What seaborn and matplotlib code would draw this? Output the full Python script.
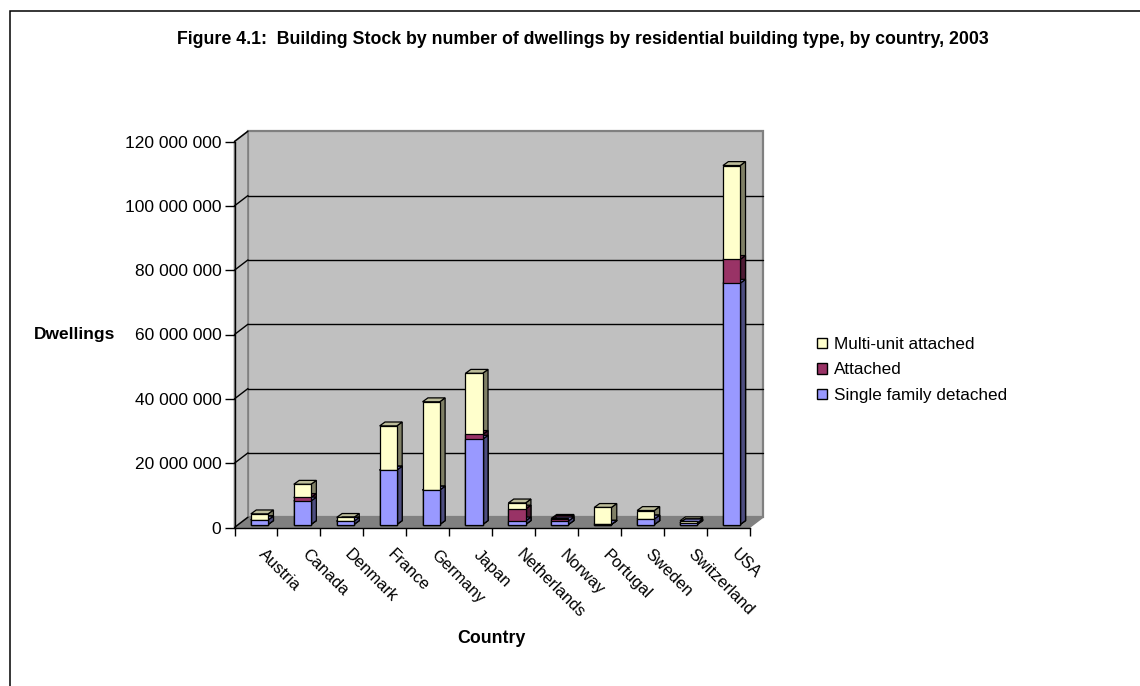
import numpy as np
import pandas as pd
import seaborn as sns
import matplotlib.pyplot as plt
from matplotlib.lines import Line2D
from matplotlib.patches import Patch, Polygon, Rectangle
from matplotlib.transforms import Affine2D, IdentityTransform
from matplotlib.ticker import FuncFormatter

countries = ['Austria', 'Canada', 'Denmark', 'France', 'Germany', 'Japan',
             'Netherlands', 'Norway', 'Portugal', 'Sweden', 'Switzerland', 'USA']
# values in millions of dwellings
single_family = [1.4, 7.3, 1.0, 16.9, 10.7, 26.5, 1.1, 1.1, 0.05, 1.7, 0.5, 75.0]
attached = [0.1, 1.1, 0.1, 0.05, 0.05, 1.5, 3.7, 0.5, 0.05, 0.05, 0.05, 7.4]
multi_unit = [1.8, 4.1, 1.1, 13.7, 27.4, 19.0, 1.9, 0.3, 5.2, 2.6, 0.6, 29.2]

y_ticks = [0, 20, 40, 60, 80, 100, 120]

sns.set_style('white')
plt.rcParams['font.family'] = ['Liberation Sans', 'DejaVu Sans']
plt.rcParams['text.color'] = 'black'
plt.rcParams['xtick.color'] = 'black'
plt.rcParams['ytick.color'] = 'black'

W, H = 1140, 686
fig = plt.figure(figsize=(W / 100, H / 100), dpi=100)
# front plane of the fake 3D box, in pixels
left, right, top, bottom = 234.5, 749.5, 141.5, 527.5
ax = fig.add_axes([left / W, 1 - bottom / H, (right - left) / W, (bottom - top) / H])
ax.patch.set_visible(False)

df = pd.DataFrame({'country': countries, 'single': single_family,
                   'attached': attached, 'multi': multi_unit})
df['c1'] = df['single']
df['c2'] = df['c1'] + df['attached']
df['c3'] = df['c2'] + df['multi']

# tallest first, the lower segments are painted over it
layers = [('c3', '#FFFFCC', '#808066', '#BDBD9A'),
          ('c2', '#993366', '#4D1A33', '#732650'),
          ('c1', '#9999FF', '#4D4D80', '#7373BF')]
for col, face, _, _ in layers:
    sns.barplot(data=df, x='country', y=col, color=face, saturation=1, width=0.4,
                edgecolor='black', linewidth=0.9, order=countries, ax=ax, zorder=5)

ax.set_xlim(-0.5, 11.5)
ax.set_ylim(0, 120)

# box walls
dx, dy = 13.5, 10.3
shift = IdentityTransform()
x0, y0 = ax.transData.transform((-0.5, 0))
x1, y1 = ax.transData.transform((11.5, 120))
walls = [
    Polygon([(x0 + dx, y0 + dy), (x1 + dx, y0 + dy), (x1 + dx, y1 + dy), (x0 + dx, y1 + dy)],
            closed=True, fc='#C0C0C0', ec='#808080', lw=1.6),
    Polygon([(x0, y0), (x0 + dx, y0 + dy), (x0 + dx, y1 + dy), (x0, y1)],
            closed=True, fc='#C0C0C0', ec='#808080', lw=1.2),
    Polygon([(x0, y0), (x1, y0), (x1 + dx, y0 + dy), (x0 + dx, y0 + dy)],
            closed=True, fc='#808080', ec='#808080', lw=1),
]
for p in walls:
    p.set_transform(shift)
    p.set_zorder(0.5)
    p.set_clip_on(False)
    ax.add_patch(p)
for t in y_ticks:
    _, yt = ax.transData.transform((0, t))
    ax.plot([x0, x0 + dx], [yt, yt + dy], color='black', lw=1, transform=shift, zorder=1, clip_on=False)
    if 0 < t < 120:
        ax.plot([x0 + dx, x1 + dx], [yt + dy, yt + dy], color='black', lw=1,
                transform=shift, zorder=1, clip_on=False)

# move the bars into the box and give them a side and a top
bar_dx, bar_dy = 3.5, 3
depth_x, depth_y = 5.4, 3.9
move = ax.transData + Affine2D().translate(bar_dx, bar_dy)
n = len(countries)
rects = [p for p in ax.patches if isinstance(p, Rectangle)]
for i, rect in enumerate(rects):
    col, face, side, lid = layers[i // n]
    rect.set_transform(move)
    rect.set_clip_on(False)
    xa, ya = move.transform((rect.get_x(), 0))
    xb, yb = move.transform((rect.get_x() + rect.get_width(), rect.get_height()))
    z = 2 + i / 100
    ax.add_patch(Polygon([(xb, ya), (xb + depth_x, ya + depth_y), (xb + depth_x, yb + depth_y), (xb, yb)],
                         closed=True, fc=side, ec='black', lw=0.9, transform=shift, zorder=z, clip_on=False))
    ax.add_patch(Polygon([(xa, yb), (xb, yb), (xb + depth_x, yb + depth_y), (xa + depth_x, yb + depth_y)],
                         closed=True, fc=lid, ec='black', lw=0.9, transform=shift, zorder=z, clip_on=False))
ax.set_xlim(-0.5, 11.5)
ax.set_ylim(0, 120)

# axes
sns.despine(ax=ax, top=True, right=True)
for s in ('left', 'bottom'):
    ax.spines[s].set_color('black')
    ax.spines[s].set_linewidth(1)
    ax.spines[s].set_zorder(1.5)
ax.set_yticks(y_ticks)
ax.yaxis.set_major_formatter(FuncFormatter(lambda v, _: f'{int(v * 1e6):,}'.replace(',', ' ')))
ax.tick_params(axis='y', left=True, length=7, width=1, labelsize=12.5, pad=2.5)
ax.set_xticks(np.arange(-0.5, 12, 1))
ax.set_xticklabels([])
ax.tick_params(axis='x', which='major', bottom=True, length=6, width=1)
ax.set_xticks(np.arange(12) + 0.25, labels=countries, minor=True)
ax.tick_params(axis='x', which='minor', bottom=False, length=0, pad=14, labelsize=11.9)
for lab in ax.get_xticklabels(minor=True):
    lab.set_rotation(-45)
    lab.set_ha('left')
    lab.set_va('top')
    lab.set_rotation_mode('anchor')
ax.set_xlabel('')
ax.set_ylabel('')
fig.text(491 / W, 1 - 638.5 / H, 'Country', ha='center', va='center', fontweight='bold', fontsize=12.8)
fig.text(75 / W, 1 - 334.5 / H, 'Dwellings', ha='center', va='center', fontweight='bold', fontsize=12.5)
fig.text(582.5 / W, 1 - 39 / H, 'Figure 4.1:  Building Stock by number of dwellings by residential building type, by country, 2003',
         ha='center', va='center', fontweight='bold', fontsize=12.8)

handles = [Patch(fc='#FFFFCC', ec='black', label='Multi-unit attached'),
           Patch(fc='#993366', ec='black', label='Attached'),
           Patch(fc='#9999FF', ec='black', label='Single family detached')]
fig.legend(handles=handles, loc='center left', bbox_to_anchor=(814 / W, 1 - 370 / H), frameon=False,
           fontsize=12.3, handlelength=0.55, handleheight=0.55, handletextpad=0.44, labelspacing=0.62,
           borderpad=0.2, borderaxespad=0)

# chart border: only top and left, both run off the image
fig.add_artist(Line2D([9.5 / W, 9.5 / W, 1], [0, 1 - 10.5 / H, 1 - 10.5 / H], transform=fig.transFigure,
                      color='black', lw=1.1, solid_joinstyle='miter'))

fig.savefig('out.png', dpi=100)
